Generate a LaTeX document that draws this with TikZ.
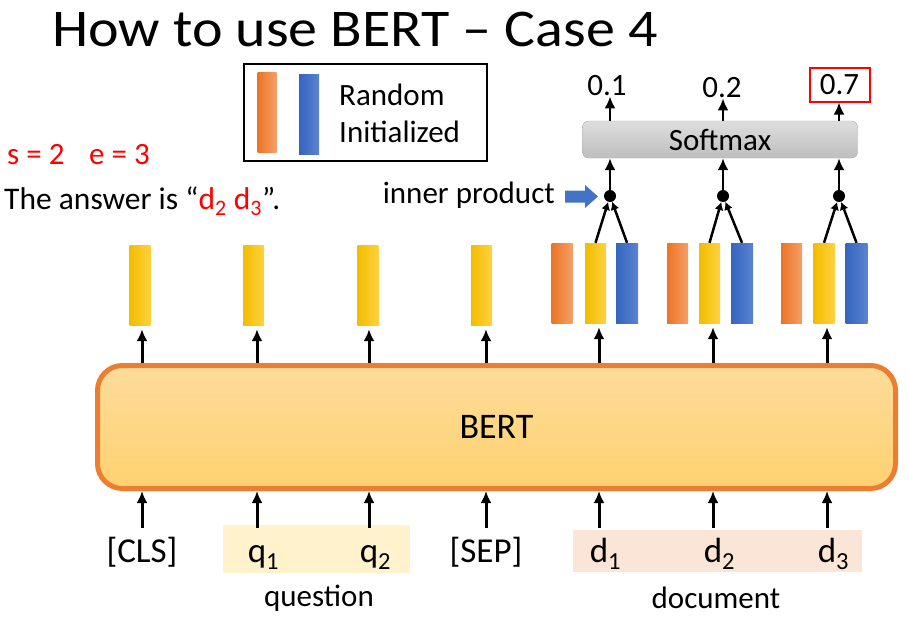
\documentclass[tikz,border=0pt]{standalone}
\usepackage[usenames,dvipsnames]{xcolor}
\usepackage{fontspec}
\setmainfont{Carlito}
\usepackage{tikz}
\usetikzlibrary{arrows.meta,backgrounds,fit}

\definecolor{barorange}{HTML}{EC7424}
\definecolor{barorangelt}{HTML}{F4A068}
\definecolor{baryellow}{HTML}{F2BC00}
\definecolor{baryellowlt}{HTML}{FFD23F}
\definecolor{barblue}{HTML}{3465C0}
\definecolor{barbluelt}{HTML}{5B83CF}
\definecolor{bertfill}{HTML}{FFD270}
\definecolor{bertfilllt}{HTML}{FDDB9A}
\definecolor{bertline}{HTML}{ED7D31}
\definecolor{qshade}{HTML}{FFF2CC}
\definecolor{dshade}{HTML}{FBE5D6}
\definecolor{smtop}{HTML}{DEDEDE}
\definecolor{smbot}{HTML}{BEBEBE}
\definecolor{smline}{HTML}{ABABAB}
\definecolor{ansred}{HTML}{FF0000}
\definecolor{ptrblue}{HTML}{4472C4}

\newcommand{\fsz}[1]{\fontsize{#1}{#1}\selectfont}

\begin{document}
\begin{tikzpicture}[x=1pt,y=-1pt,
  yelbar/.style={minimum width=21pt,minimum height=80pt,inner sep=0pt,left color=baryellow,right color=baryellowlt},
  orbar/.style={minimum width=21pt,minimum height=80pt,inner sep=0pt,left color=barorange,right color=barorangelt},
  blbar/.style={minimum width=22pt,minimum height=80pt,inner sep=0pt,left color=barblue,right color=barbluelt},
  tok/.style={font=\fsz{35},inner sep=0pt,text height=34pt,text depth=6pt},
  txt/.style={font=\fsz{31},inner sep=0pt},
  uparr/.style={-{Latex[length=12pt,width=11pt]},line width=3pt},
  prodline/.style={-{Latex[length=8pt,width=9pt]},line width=2.5pt},
  dotn/.style={circle,fill=black,inner sep=0pt,minimum size=12pt}]

  \useasboundingbox (0,0) rectangle (909,621);

  % title and answer
  \draw (52,46) node[anchor=base west,inner sep=0pt,font=\fsz{53},xscale=1.094,transform shape] (title) {How to use BERT -- Case 4};
  \draw (7,155) node[txt,anchor=west,text=ansred] (s) {s = 2};
  \draw (89,155) node[txt,anchor=west,text=ansred] (e) {e = 3};
  \draw (4,201) node[txt,anchor=west,font=\fsz{31.5}] (ans) {The answer is ``\textcolor{ansred}{d\textsubscript{2} d\textsubscript{3}}''.};

  % legend
  \draw (365.5,112.5) node[draw,line width=2.5pt,minimum width=243pt,minimum height=97pt] (leg) {};
  \draw (267,112.5) node[orbar,minimum width=19pt] (legor) {};
  \draw (309,114) node[blbar,minimum width=20pt] (legbl) {};
  \draw (339,95) node[txt,anchor=west] (rand) {Random};
  \draw (339,132) node[txt,anchor=west] (init) {Initialized};

  % shaded token areas
  \draw (316.5,549) node[fill=qshade,minimum width=187pt,minimum height=48pt] (qarea) {};
  \draw (717.5,551) node[fill=dshade,minimum width=289pt,minimum height=42pt] (darea) {};

  % BERT
  \draw (496.5,427) node[draw=bertline,line width=5pt,rounded corners=25pt,top color=bertfilllt,bottom color=bertfill,minimum width=798pt,minimum height=123pt,font=\fsz{36}] (bert) {BERT};

  % tokens
  \draw (142,548) node[tok] (cls) {[CLS]};
  \draw (257,548) node[tok] (q1) {q\rlap{\textsubscript{1}}};
  \draw (369,548) node[tok] (q2) {q\rlap{\textsubscript{2}}};
  \draw (486,548) node[tok] (sep) {[SEP]};
  \draw (599,548) node[tok] (d1) {d\rlap{\textsubscript{1}}};
  \draw (713,548) node[tok] (d2) {d\rlap{\textsubscript{2}}};
  \draw (827,548) node[tok] (d3) {d\rlap{\textsubscript{3}}};
  \draw (319,598) node[txt] (quest) {question};
  \draw (716,598) node[txt] (doc) {document};

  % output vectors
  \draw (140,285) node[yelbar] (y1) {};
  \draw (253.5,285) node[yelbar] (y2) {};
  \draw (368,285) node[yelbar] (y3) {};
  \draw (481.5,285) node[yelbar] (y4) {};
  \draw (562,283) node[orbar] (o5) {};
  \draw (595.5,283) node[yelbar] (y5) {};
  \draw (627,283) node[blbar] (b5) {};
  \draw (677.5,283) node[orbar] (o6) {};
  \draw (709.5,283) node[yelbar] (y6) {};
  \draw (742,283) node[blbar] (b6) {};
  \draw (791.5,283) node[orbar] (o7) {};
  \draw (824,283) node[yelbar] (y7) {};
  \draw (856.5,283) node[blbar] (b7) {};

  % inner products and softmax
  \draw (610,196) node[dotn] (dot1) {};
  \draw (723,196) node[dotn] (dot2) {};
  \draw (839,196) node[dotn] (dot3) {};
  \draw (720,139.5) node[draw=smline,rounded corners=6pt,top color=smtop,bottom color=smbot,minimum width=275pt,minimum height=37pt,font=\fsz{31}] (sm) {Softmax};
  \draw (607,86) node[txt] (p1) {0.1};
  \draw (722,88) node[txt] (p2) {0.2};
  \draw (839.5,84.5) node[txt,draw=ansred,line width=2pt,minimum width=60pt,minimum height=34pt] (p3) {0.7};
  \draw (555,195) node[txt,anchor=east] (ip) {inner product};
  \fill[ptrblue] (565,190.5) -- (585,190.5) -- (585,185) -- (598,196.5) -- (585,208) -- (585,202.5) -- (565,202.5) -- cycle;

  % arrows into BERT
  \draw[uparr] (cls.north) -- (cls |- bert.south);
  \draw[uparr] (q1.north) -- (q1 |- bert.south);
  \draw[uparr] (q2.north) -- (q2 |- bert.south);
  \draw[uparr] (sep.north) -- (sep |- bert.south);
  \draw[uparr] (d1.north) -- (d1 |- bert.south);
  \draw[uparr] (d2.north) -- (d2 |- bert.south);
  \draw[uparr] (d3.north) -- (d3 |- bert.south);

  % arrows out of BERT
  \draw[uparr,shorten >=4pt] (cls |- bert.north) -- (cls |- y1.south);
  \draw[uparr,shorten >=4pt] (q1 |- bert.north) -- (q1 |- y2.south);
  \draw[uparr,shorten >=4pt] (q2 |- bert.north) -- (q2 |- y3.south);
  \draw[uparr,shorten >=4pt] (sep |- bert.north) -- (sep |- y4.south);
  \draw[uparr,shorten >=4pt] (d1 |- bert.north) -- (d1 |- y5.south);
  \draw[uparr,shorten >=4pt] (d2 |- bert.north) -- (d2 |- y6.south);
  \draw[uparr,shorten >=4pt] (d3 |- bert.north) -- (d3 |- y7.south);

  % products
  \draw[prodline] (y5.north) -- (dot1);
  \draw[prodline] (b5.north) -- (dot1);
  \draw[prodline] (y6.north) -- (dot2);
  \draw[prodline] (b6.north) -- (dot2);
  \draw[prodline] (y7.north) -- (dot3);
  \draw[prodline] (b7.north) -- (dot3);

  \draw[uparr,line width=2.5pt] (dot1) -- (dot1 |- sm.south);
  \draw[uparr,line width=2.5pt] (dot2) -- (dot2 |- sm.south);
  \draw[uparr,line width=2.5pt] (dot3) -- (dot3 |- sm.south);
  \draw[uparr,line width=2.5pt] (dot1 |- sm.north) -- (dot1 |- p1.south);
  \draw[uparr,line width=2.5pt] (dot2 |- sm.north) -- (dot2 |- p2.south);
  \draw[uparr,line width=2.5pt] (dot3 |- sm.north) -- (dot3 |- p3.south);

\end{tikzpicture}
\end{document}
